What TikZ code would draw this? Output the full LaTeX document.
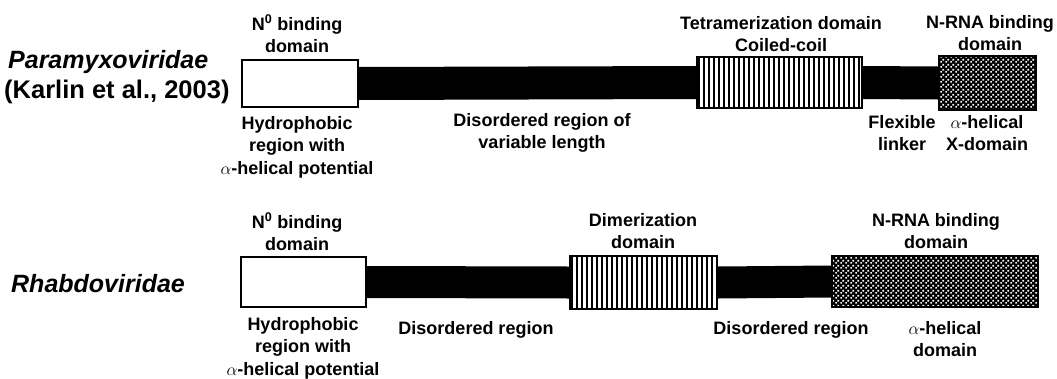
\documentclass[tikz,border=0pt]{standalone}
\usepackage{fontspec}
\setmainfont{Liberation Sans}
\usepackage{tikz}
\usetikzlibrary{patterns}
\pgfdeclarepatternformonly{fine checker}{\pgfpointorigin}{\pgfqpoint{5pt}{5pt}}{\pgfqpoint{5pt}{5pt}}{
    \pgfpathrectangle{\pgfqpoint{0.3pt}{0.3pt}}{\pgfqpoint{2pt}{2pt}}
    \pgfpathrectangle{\pgfqpoint{2.8pt}{2.8pt}}{\pgfqpoint{2pt}{2pt}}
    \pgfusepath{fill}}

\begin{document}
\begin{tikzpicture}[x=1pt,y=-1pt]
            \tikzstyle{text node}=[align=center,inner sep=0pt,font=\bfseries\fontsize{18}{22.5}\selectfont]
            \tikzstyle{family node}=[anchor=west,inner sep=0pt,font=\bfseries\itshape\fontsize{25}{30}\selectfont]
            \tikzstyle{box node}=[draw,line width=2pt,rectangle,inner sep=0pt,fill=white]
            \tikzstyle{stripe node}=[box node,path picture={
                \foreach \i in {2,7,...,300}
                    \draw[line width=1.3pt] ([xshift=\i pt]path picture bounding box.south west) -- ([xshift=\i pt]path picture bounding box.north west);}]
            \tikzstyle{check node}=[box node,path picture={
                \fill[black] (path picture bounding box.south west) rectangle (path picture bounding box.north east);
                \fill[pattern=fine checker,pattern color=white] (path picture bounding box.south west) rectangle (path picture bounding box.north east);}]
            \tikzstyle{bar}=[line width=33pt,line cap=butt]
            \useasboundingbox (0,0) rectangle (1057,378);

            % Paramyxoviridae
            \node[family node] (famA) at (8,62) {Paramyxoviridae};
            \node[family node,font=\bfseries\fontsize{25.5}{30}\selectfont] (refA) at (4,92) {(Karlin et al., 2003)};
            \node[box node,minimum width=116pt,minimum height=47pt] (nA) at (300,83.5) {};
            \node[stripe node,minimum width=165pt,minimum height=51pt] (tA) at (779.5,82.5) {};
            \node[check node,minimum width=97pt,minimum height=54pt] (xA) at (987.5,83) {};
            \draw[bar] (nA.east) -- (tA.west);
            \draw[bar] (tA.east) -- (xA.west);

            \node[text node] (nAtop) at (297,34) {N\textsuperscript{0} binding\\domain};
            \node[text node] (nAbot) at (297,147) {Hydrophobic\\region with\\$\alpha$-helical potential};
            \node[text node] (dA) at (542,133) {Disordered region of\\variable length};
            \node[text node] (tAtop) at (781,34) {Tetramerization domain\\Coiled-coil};
            \node[text node] (lA) at (902,133) {Flexible\\linker};
            \node[text node] (xAtop) at (990,33) {N-RNA binding\\domain};
            \node[text node] (xAbot) at (987,133) {$\alpha$-helical\\X-domain};

            % Rhabdoviridae
            \node[family node] (famB) at (11,284) {Rhabdoviridae};
            \node[box node,minimum width=125pt,minimum height=50pt] (nB) at (303.5,282) {};
            \node[stripe node,minimum width=147pt,minimum height=53pt] (dB) at (643.5,282.5) {};
            \node[check node,minimum width=206pt,minimum height=51pt] (xB) at (935,281.5) {};
            \draw[bar,line width=32pt] (nB.east) -- (dB.west);
            \draw[bar,line width=32pt] (dB.east) -- (xB.west);

            \node[text node] (nBtop) at (297,232) {N\textsuperscript{0} binding\\domain};
            \node[text node] (nBbot) at (303,348) {Hydrophobic\\region with\\$\alpha$-helical potential};
            \node[text node] (d1B) at (476,330) {Disordered region};
            \node[text node] (dBtop) at (643,231) {Dimerization\\domain};
            \node[text node] (d2B) at (791,330) {Disordered region};
            \node[text node] (xBtop) at (936,231) {N-RNA binding\\domain};
            \node[text node] (xBbot) at (945,339) {$\alpha$-helical\\domain};
        \end{tikzpicture}
\end{document}
